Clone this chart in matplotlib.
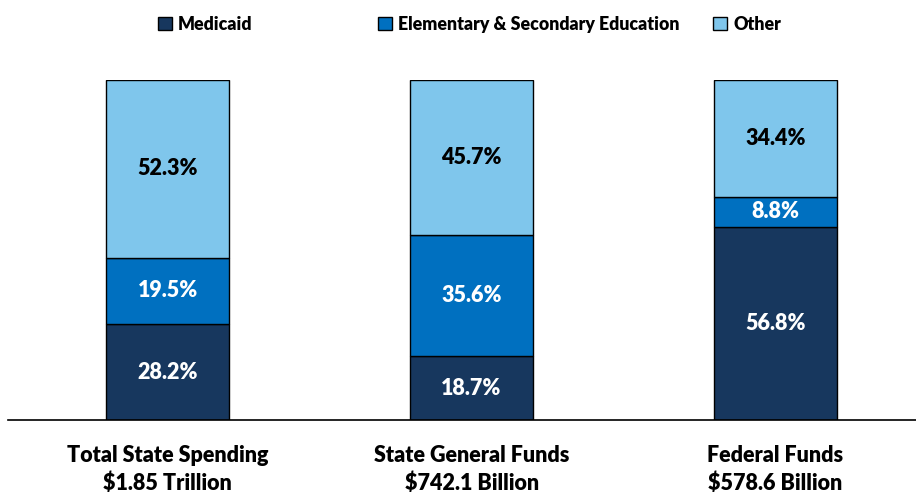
import matplotlib
matplotlib.use("Agg")
import matplotlib.pyplot as plt
from matplotlib.patches import Patch

categories = ["Total State Spending\n$1.85 Trillion",
              "State General Funds\n$742.1 Billion",
              "Federal Funds\n$578.6 Billion"]
series_names = ["Medicaid", "Elementary & Secondary Education", "Other"]
medicaid = [28.2, 18.7, 56.8]
education = [19.5, 35.6, 8.8]
other = [52.3, 45.7, 34.4]
colors = ["#17375E", "#0070C0", "#7FC6EC"]
label_colors = ["white", "white", "black"]

plt.rcParams['font.family'] = ['Lato', 'DejaVu Sans']
W = 'heavy'

fig = plt.figure(figsize=(9.16, 4.93), dpi=100)
ax = fig.add_axes([8/916, 73/493, 1 - 8/916, 340/493])

x = list(range(len(categories)))
bottom = [0, 0, 0]
for vals, col, lc in zip([medicaid, education, other], colors, label_colors):
    ax.bar(x, vals, width=0.405, bottom=bottom, color=col,
           edgecolor="black", linewidth=1.0, zorder=2)
    for xi, v, b in zip(x, vals, bottom):
        ax.text(xi, b + v / 2, f"{v:.1f}%", ha="center", va="center",
                color=lc, fontsize=15.5, fontweight=W)
    bottom = [b + v for b, v in zip(bottom, vals)]

ax.set_ylim(0, 100)
ax.set_xlim(-0.525, 2.462)
for s in ["top", "right", "left"]:
    ax.spines[s].set_visible(False)
ax.spines["bottom"].set_linewidth(1.2)
ax.set_yticks([])
ax.set_xticks(x)
ax.set_xticklabels(categories, fontsize=15.5, fontweight=W, linespacing=1.4)
ax.tick_params(axis="x", length=0, pad=18)

legend_x = [158, 378, 713]
for name, col, lx in zip(series_names, colors, legend_x):
    h = Patch(facecolor=col, edgecolor="black", linewidth=1.0)
    fig.legend([h], [name], loc="center left", bbox_to_anchor=(lx / 916, 0.951),
               frameon=False, handlelength=0.78, handleheight=0.78,
               handletextpad=0.35, borderpad=0, borderaxespad=0,
               prop={'weight': W, 'size': 12.8})

fig.savefig("out.png", dpi=100)
